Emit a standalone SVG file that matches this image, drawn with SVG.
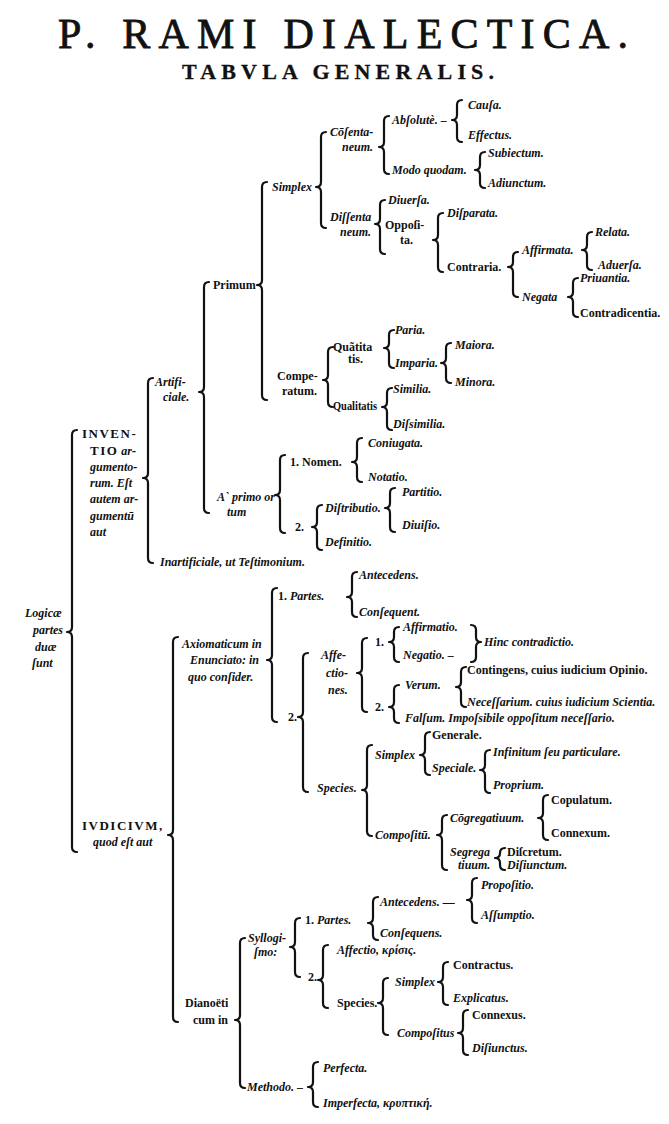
<svg xmlns="http://www.w3.org/2000/svg" width="669" height="1124" viewBox="0 0 669 1124">
<style>
.t{font-family:"Liberation Serif","DejaVu Serif",serif;font-size:12px;font-weight:bold;fill:#111}
.i{font-style:italic}
.cap{font-style:normal;letter-spacing:1.5px;font-size:13px}
.ttl{font-family:"Liberation Serif","DejaVu Serif",serif;fill:#111;stroke:#111}
.b{fill:none;stroke:#111;stroke-width:2.2;stroke-linecap:round;stroke-linejoin:round}
</style>
<rect width="669" height="1124" fill="#fff"/>
<g id="title">
<text class="ttl" x="58" y="48" font-size="42" stroke-width="0.8" textLength="570" lengthAdjust="spacing">P. RAMI DIALECTICA.</text>
<text class="ttl" x="182" y="79" font-size="22" font-weight="bold" stroke-width="0.3" textLength="312" lengthAdjust="spacing">TABVLA GENERALIS.</text>
</g>
<g id="connectors">
<path class="b" d="M77,430 Q72,430 72,435 V627 Q72,632 67,632 Q72,632 72,637 V847 Q72,852 77,852"/>
<path class="b" d="M153,378 Q148,378 148,383 V473 Q148,478 143,478 Q148,478 148,483 V558 Q148,563 153,563"/>
<path class="b" d="M209,282 Q204,282 204,287 V387 Q204,392 199,392 Q204,392 204,397 V508 Q204,513 209,513"/>
<path class="b" d="M267,182 Q262,182 262,187 V280 Q262,285 257,285 Q262,285 262,290 V395 Q262,400 267,400"/>
<path class="b" d="M326,132 Q321,132 321,137 V182 Q321,187 316,187 Q321,187 321,192 V223 Q321,228 326,228"/>
<path class="b" d="M389,116 Q384,116 384,121 V142 Q384,147 379,147 Q384,147 384,152 V169 Q384,174 389,174"/>
<path class="b" d="M462,100 Q457,100 457,105 V115 Q457,120 452,120 Q457,120 457,125 V137 Q457,142 462,142"/>
<path class="b" d="M485,152 Q480,152 480,157 V165 Q480,170 475,170 Q480,170 480,175 V183 Q480,188 485,188"/>
<path class="b" d="M385,200 Q380,200 380,205 V219 Q380,224 375,224 Q380,224 380,229 V249 Q380,254 385,254"/>
<path class="b" d="M443,213 Q438,213 438,218 V235 Q438,240 433,240 Q438,240 438,245 V267 Q438,272 443,272"/>
<path class="b" d="M518,252 Q513,252 513,257 V262 Q513,267 508,267 Q513,267 513,272 V292 Q513,297 518,297"/>
<path class="b" d="M592,232 Q587,232 587,237 V245 Q587,250 582,250 Q587,250 587,255 V265 Q587,270 592,270"/>
<path class="b" d="M578,278 Q573,278 573,283 V292 Q573,297 568,297 Q573,297 573,302 V312 Q573,317 578,317"/>
<path class="b" d="M333,347 Q328,347 328,352 V375 Q328,380 323,380 Q328,380 328,385 V402 Q328,407 333,407"/>
<path class="b" d="M394,330 Q389,330 389,335 V343 Q389,348 384,348 Q389,348 389,353 V363 Q389,368 394,368"/>
<path class="b" d="M451,343 Q446,343 446,348 V358 Q446,363 441,363 Q446,363 446,368 V378 Q446,383 451,383"/>
<path class="b" d="M392,388 Q387,388 387,393 V402 Q387,407 382,407 Q387,407 387,412 V425 Q387,430 392,430"/>
<path class="b" d="M285,455 Q280,455 280,460 V490 Q280,495 275,495 Q280,495 280,500 V528 Q280,533 285,533"/>
<path class="b" d="M362,438 Q357,438 357,443 V457 Q357,462 352,462 Q357,462 357,467 V477 Q357,482 362,482"/>
<path class="b" d="M322,505 Q317,505 317,510 V522 Q317,527 312,527 Q317,527 317,532 V545 Q317,550 322,550"/>
<path class="b" d="M395,488 Q390,488 390,493 V503 Q390,508 385,508 Q390,508 390,513 V527 Q390,532 395,532"/>
<path class="b" d="M178,637 Q173,637 173,642 V830 Q173,835 168,835 Q173,835 173,840 V1017 Q173,1022 178,1022"/>
<path class="b" d="M277,588 Q272,588 272,593 V655 Q272,660 267,660 Q272,660 272,665 V717 Q272,722 277,722"/>
<path class="b" d="M357,572 Q352,572 352,577 V592 Q352,597 347,597 Q352,597 352,602 V612 Q352,617 357,617"/>
<path class="b" d="M308,653 Q303,653 303,658 V712 Q303,717 298,717 Q303,717 303,722 V787 Q303,792 308,792"/>
<path class="b" d="M367,638 Q362,638 362,643 V668 Q362,673 357,673 Q362,673 362,678 V707 Q362,712 367,712"/>
<path class="b" d="M399,627 Q394,627 394,632 V637 Q394,642 389,642 Q394,642 394,647 V657 Q394,662 399,662"/>
<path class="b" d="M471,625 Q476,625 476,630 V637 Q476,642 481,642 Q476,642 476,647 V657 Q476,662 471,662"/>
<path class="b" d="M399,685 Q394,685 394,690 V702 Q394,707 389,707 Q394,707 394,712 V718 Q394,723 399,723"/>
<path class="b" d="M466,667 Q461,667 461,672 V682 Q461,687 456,687 Q461,687 461,692 V702 Q461,707 466,707"/>
<path class="b" d="M372,745 Q367,745 367,750 V785 Q367,790 362,790 Q367,790 367,795 V831 Q367,836 372,836"/>
<path class="b" d="M430,732 Q425,732 425,737 V750 Q425,755 420,755 Q425,755 425,760 V770 Q425,775 430,775"/>
<path class="b" d="M490,750 Q485,750 485,755 V765 Q485,770 480,770 Q485,770 485,775 V788 Q485,793 490,793"/>
<path class="b" d="M447,815 Q442,815 442,820 V830 Q442,835 437,835 Q442,835 442,840 V865 Q442,870 447,870"/>
<path class="b" d="M548,795 Q543,795 543,800 V813 Q543,818 538,818 Q543,818 543,823 V835 Q543,840 548,840"/>
<path class="b" d="M505,848 Q500,848 500,853 Q500,858 495,858 Q500,858 500,863 V865 Q500,870 505,870"/>
<path class="b" d="M245,938 Q240,938 240,943 V1015 Q240,1020 235,1020 Q240,1020 240,1025 V1083 Q240,1088 245,1088"/>
<path class="b" d="M300,918 Q295,918 295,923 V942 Q295,947 290,947 Q295,947 295,952 V972 Q295,977 300,977"/>
<path class="b" d="M378,897 Q373,897 373,902 V918 Q373,923 368,923 Q373,923 373,928 V935 Q373,940 378,940"/>
<path class="b" d="M477,878 Q472,878 472,883 V895 Q472,900 467,900 Q472,900 472,905 V918 Q472,923 477,923"/>
<path class="b" d="M328,945 Q323,945 323,950 V975 Q323,980 318,980 Q323,980 323,985 V1003 Q323,1008 328,1008"/>
<path class="b" d="M388,978 Q383,978 383,983 V998 Q383,1003 378,1003 Q383,1003 383,1008 V1030 Q383,1035 388,1035"/>
<path class="b" d="M448,962 Q443,962 443,967 V977 Q443,982 438,982 Q443,982 443,987 V1000 Q443,1005 448,1005"/>
<path class="b" d="M468,1010 Q463,1010 463,1015 V1028 Q463,1033 458,1033 Q463,1033 463,1038 V1050 Q463,1055 468,1055"/>
<path class="b" d="M318,1062 Q313,1062 313,1067 V1082 Q313,1087 308,1087 Q313,1087 313,1092 V1102 Q313,1107 318,1107"/>
</g>
<g id="logicae" class="t i"><text x="25" y="617">Logicæ</text><text x="33" y="634">partes</text><text x="35" y="651">duæ</text><text x="32" y="667">ſunt</text></g>
<g id="inventio" class="t i">
<text x="82" y="438" class="cap">INVEN-</text>
<text x="90" y="455"><tspan class="cap">TIO</tspan> ar-</text>
<text x="90" y="471">gumento-</text><text x="90" y="487">rum. Eſt</text><text x="90" y="503">autem ar-</text><text x="90" y="520">gumentū</text><text x="90" y="536">aut</text>
</g>
<g id="artificiale" class="t i"><text x="155" y="386">Artifi-</text><text x="163" y="401">ciale.</text></g>
<g id="inartificiale" class="t i"><text x="160" y="566">Inartificiale, ut Teſtimonium.</text></g>
<g id="primum" class="t"><text x="213" y="289">Primum</text></g>
<g id="simplex1" class="t i"><text x="272" y="191">Simplex</text></g>
<g id="consentaneum" class="t i"><text x="330" y="136">Cōſenta-</text><text x="342" y="151">neum.</text></g>
<g id="absolute" class="t i"><text x="392" y="124">Abſolutè. –</text></g>
<g id="causa" class="t i"><text x="468" y="109">Cauſa.</text></g>
<g id="effectus" class="t i"><text x="468" y="139">Effectus.</text></g>
<g id="modo" class="t i"><text x="392" y="174">Modo quodam.</text></g>
<g id="subiectum" class="t i"><text x="488" y="157">Subiectum.</text></g>
<g id="adiunctum" class="t i"><text x="488" y="187">Adiunctum.</text></g>
<g id="dissentaneum" class="t i"><text x="330" y="221">Diſſenta</text><text x="340" y="236">neum.</text></g>
<g id="diuersa" class="t i"><text x="388" y="204">Diuerſa.</text></g>
<g id="opposita" class="t"><text x="385" y="229">Oppoſi-</text><text x="400" y="244">ta.</text></g>
<g id="disparata" class="t i"><text x="447" y="217">Diſparata.</text></g>
<g id="contraria" class="t"><text x="447" y="271">Contraria.</text></g>
<g id="affirmata" class="t i"><text x="522" y="254">Affirmata.</text></g>
<g id="relata" class="t i"><text x="595" y="236">Relata.</text></g>
<g id="aduersa" class="t i"><text x="598" y="269">Aduerſa.</text></g>
<g id="negata" class="t i"><text x="522" y="301">Negata</text></g>
<g id="priuantia" class="t i"><text x="580" y="282">Priuantia.</text></g>
<g id="contradicentia" class="t"><text x="580" y="317">Contradicentia.</text></g>
<g id="comparatum" class="t"><text x="277" y="380">Compe-</text><text x="282" y="395">ratum.</text></g>
<g id="quantitatis" class="t"><text x="333" y="351">Quãtita</text><text x="348" y="363">tis.</text></g>
<g id="paria" class="t i"><text x="395" y="334">Paria.</text></g>
<g id="imparia" class="t i"><text x="395" y="367">Imparia.</text></g>
<g id="maiora" class="t i"><text x="455" y="349">Maiora.</text></g>
<g id="minora" class="t i"><text x="455" y="386">Minora.</text></g>
<g id="qualitatis" class="t"><text x="333" y="410" textLength="44" lengthAdjust="spacingAndGlyphs">Qualitatis</text></g>
<g id="similia" class="t i"><text x="393" y="393">Similia.</text></g>
<g id="dissimilia" class="t i"><text x="393" y="428">Diſsimilia.</text></g>
<g id="aprimo" class="t i"><text x="217" y="501">A` primo or</text><text x="227" y="516">tum</text></g>
<g id="nomen" class="t"><text x="290" y="466">1.  Nomen.</text></g>
<g id="coniugata" class="t i"><text x="368" y="447">Coniugata.</text></g>
<g id="notatio" class="t i"><text x="368" y="481">Notatio.</text></g>
<g id="n2a" class="t"><text x="295" y="531">2.</text></g>
<g id="distributio" class="t i"><text x="325" y="512">Diſtributio.</text></g>
<g id="partitio" class="t i"><text x="402" y="496">Partitio.</text></g>
<g id="diuisio" class="t i"><text x="402" y="529">Diuiſio.</text></g>
<g id="definitio" class="t i"><text x="325" y="546">Definitio.</text></g>
<g id="iudicium" class="t i"><text x="82" y="830" class="cap">IVDICIVM,</text><text x="93" y="846">quod eſt aut</text></g>
<g id="axiomaticum" class="t i"><text x="182" y="648">Axiomaticum in</text><text x="190" y="664">Enunciato: in</text><text x="188" y="681">quo conſider.</text></g>
<g id="partes1" class="t i"><text x="278" y="600"><tspan font-style="normal">1.</tspan>  Partes.</text></g>
<g id="antecedens1" class="t i"><text x="359" y="579">Antecedens.</text></g>
<g id="consequent1" class="t i"><text x="359" y="616">Conſequent.</text></g>
<g id="n2b" class="t"><text x="288" y="721">2.</text></g>
<g id="affectiones" class="t i"><text x="321" y="659">Affe-</text><text x="326" y="677">ctio-</text><text x="328" y="694">nes.</text></g>
<g id="n1c" class="t"><text x="375" y="646">1.</text></g>
<g id="affirmatio" class="t i"><text x="403" y="631">Affirmatio.</text></g>
<g id="negatio" class="t i"><text x="403" y="659">Negatio. –</text></g>
<g id="contradictio" class="t i"><text x="484" y="646">Hinc contradictio.</text></g>
<g id="n2c" class="t"><text x="375" y="711">2.</text></g>
<g id="verum" class="t i"><text x="405" y="689">Verum.</text></g>
<g id="contingens" class="t"><text x="467" y="674">Contingens, cuius iudicium Opinio.</text></g>
<g id="necessarium" class="t i"><text x="467" y="706">Neceſſarium. cuius iudicium Scientia.</text></g>
<g id="falsum" class="t i"><text x="405" y="722">Falſum. Impoſsibile oppoſitum neceſſario.</text></g>
<g id="species1" class="t i"><text x="317" y="792">Species.</text></g>
<g id="simplex2" class="t i"><text x="375" y="759">Simplex</text></g>
<g id="generale" class="t"><text x="432" y="739">Generale.</text></g>
<g id="speciale" class="t i"><text x="432" y="772">Speciale.</text></g>
<g id="infinitum" class="t i"><text x="493" y="756">Infinitum ſeu particulare.</text></g>
<g id="proprium" class="t i"><text x="493" y="789">Proprium.</text></g>
<g id="compositu" class="t i"><text x="375" y="839">Compoſitū.</text></g>
<g id="congregatiuum" class="t i"><text x="450" y="822">Cōgregatiuum.</text></g>
<g id="copulatum" class="t"><text x="551" y="804">Copulatum.</text></g>
<g id="connexum" class="t"><text x="551" y="837">Connexum.</text></g>
<g id="segregatiuum" class="t i"><text x="450" y="856">Segrega</text><text x="458" y="869">tiuum.</text></g>
<g id="discretum" class="t"><text x="507" y="856">Diſcretum.</text></g>
<g id="disiunctum" class="t i"><text x="507" y="869">Diſiunctum.</text></g>
<g id="dianoeticum" class="t"><text x="185" y="1007">Dianoëti</text><text x="193" y="1024">cum in</text></g>
<g id="syllogismo" class="t i"><text x="248" y="942">Syllogi-</text><text x="254" y="956">ſmo:</text></g>
<g id="partes2" class="t i"><text x="305" y="924"><tspan font-style="normal">1.</tspan>  Partes.</text></g>
<g id="antecedens2" class="t i"><text x="380" y="906">Antecedens. —</text></g>
<g id="propositio" class="t i"><text x="481" y="889">Propoſitio.</text></g>
<g id="assumptio" class="t i"><text x="481" y="919">Aſſumptio.</text></g>
<g id="consequens2" class="t i"><text x="380" y="937">Conſequens.</text></g>
<g id="n2d" class="t"><text x="308" y="981">2.</text></g>
<g id="affectio" class="t i"><text x="337" y="954">Affectio, κρίσις.</text></g>
<g id="species2" class="t"><text x="337" y="1007">Species.</text></g>
<g id="simplex3" class="t i"><text x="395" y="986">Simplex</text></g>
<g id="contractus" class="t"><text x="453" y="969">Contractus.</text></g>
<g id="explicatus" class="t i"><text x="453" y="1002">Explicatus.</text></g>
<g id="compositus" class="t i"><text x="397" y="1037">Compoſitus</text></g>
<g id="connexus" class="t"><text x="472" y="1019">Connexus.</text></g>
<g id="disiunctus" class="t i"><text x="472" y="1052">Diſiunctus.</text></g>
<g id="methodo" class="t i"><text x="247" y="1091">Methodo. –</text></g>
<g id="perfecta" class="t i"><text x="323" y="1072">Perfecta.</text></g>
<g id="imperfecta" class="t i"><text x="323" y="1107">Imperfecta, κρυπτική.</text></g>
</svg>
